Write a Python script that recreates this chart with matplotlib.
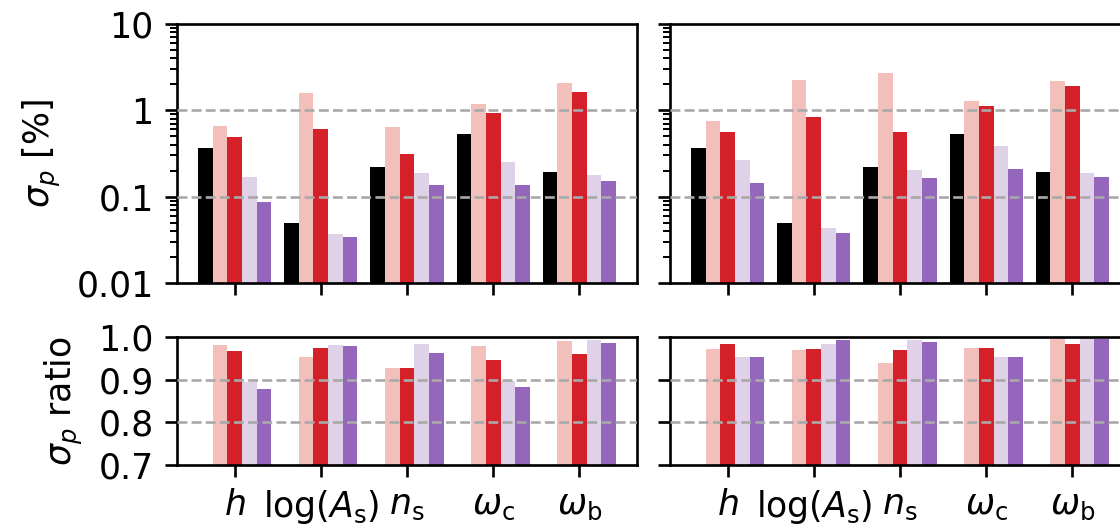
import numpy as np
import matplotlib
matplotlib.use('Agg')
import matplotlib.pyplot as plt
from matplotlib.ticker import FixedLocator, FixedFormatter, LogLocator, NullFormatter

# ---------------- data ----------------
params = [r'$h$', r'$\log(A_\mathrm{s})$', r'$n_\mathrm{s}$', r'$\omega_\mathrm{c}$', r'$\omega_\mathrm{b}$']

# left panel, sigma_p [%]
left_black  = [0.37, 0.049, 0.218, 0.536, 0.191]
left_pink   = [0.66, 1.57, 0.64, 1.17, 2.09]
left_red    = [0.49, 0.61, 0.314, 0.94, 1.64]
left_lav    = [0.169, 0.037, 0.188, 0.249, 0.179]
left_purple = [0.087, 0.0337, 0.1375, 0.135, 0.150]

# right panel, sigma_p [%]
right_black  = [0.37, 0.049, 0.218, 0.536, 0.191]
right_pink   = [0.76, 2.24, 2.68, 1.29, 2.19]
right_red    = [0.565, 0.83, 0.56, 1.11, 1.93]
right_lav    = [0.268, 0.043, 0.203, 0.389, 0.186]
right_purple = [0.144, 0.0376, 0.164, 0.21, 0.167]

# ratios
left_ratio_pink   = [0.981, 0.953, 0.928, 0.978, 0.991]
left_ratio_red    = [0.968, 0.974, 0.927, 0.946, 0.961]
left_ratio_lav    = [0.895, 0.982, 0.983, 0.897, 0.994]
left_ratio_purple = [0.877, 0.979, 0.963, 0.883, 0.986]

right_ratio_pink   = [0.972, 0.970, 0.938, 0.975, 0.996]
right_ratio_red    = [0.983, 0.972, 0.969, 0.974, 0.984]
right_ratio_lav    = [0.952, 0.984, 0.992, 0.952, 0.998]
right_ratio_purple = [0.953, 0.992, 0.988, 0.953, 0.996]

colors = ['#000000', '#f3bfbb', '#d42028', '#dfd1e8', '#9467bd']

# ---------------- style ----------------
S = 2.4
FS = 25
plt.rcParams.update({
    'font.family': ['DejaVu Sans'],
    'font.size': FS,
    'axes.linewidth': 0.8 * S,
    'xtick.major.size': 3.5 * S, 'ytick.major.size': 3.5 * S,
    'xtick.minor.size': 2.0 * S, 'ytick.minor.size': 2.0 * S,
    'xtick.major.width': 0.8 * S, 'ytick.major.width': 0.8 * S,
    'xtick.minor.width': 0.6 * S, 'ytick.minor.width': 0.6 * S,
    'xtick.major.pad': 3.5 * S, 'ytick.major.pad': 3.5 * S,
    'xtick.labelsize': FS, 'ytick.labelsize': FS,
    'axes.labelsize': FS,
    'axes.labelpad': 4.0 * S,
})

W, H = 1120, 525
fig = plt.figure(figsize=(W / 100, H / 100), dpi=100)

def fx(px):
    return px / W

def fy(py):
    return 1 - py / H

ax_w = 460
top_t, top_b = 24, 283
bot_t, bot_b = 337, 465
lefts = [177, 670]

axes_top = [fig.add_axes([fx(l), fy(top_b), fx(ax_w), (top_b - top_t) / H]) for l in lefts]
axes_bot = [fig.add_axes([fx(l), fy(bot_b), fx(ax_w), (bot_b - bot_t) / H]) for l in lefts]

bw = 0.17
x = np.arange(len(params))

top_series = [
    [left_black, left_pink, left_red, left_lav, left_purple],
    [right_black, right_pink, right_red, right_lav, right_purple],
]
bot_series = [
    [left_ratio_pink, left_ratio_red, left_ratio_lav, left_ratio_purple],
    [right_ratio_pink, right_ratio_red, right_ratio_lav, right_ratio_purple],
]

grid_kw = dict(color='#a9a9a9', lw=0.8 * S, linestyle='--', zorder=5)

for k in range(2):
    ax = axes_top[k]
    for i, vals in enumerate(top_series[k]):
        ax.bar(x + (i - 2) * bw, vals, bw, color=colors[i], zorder=2)
    ax.set_yscale('log')
    ax.set_ylim(0.01, 10)
    for g in (0.1, 1.0):
        ax.axhline(g, **grid_kw)
    ax.yaxis.set_major_locator(FixedLocator([0.01, 0.1, 1, 10]))
    ax.yaxis.set_minor_locator(LogLocator(base=10, subs=np.arange(2, 10)))
    ax.yaxis.set_minor_formatter(NullFormatter())
    if k == 0:
        ax.yaxis.set_major_formatter(FixedFormatter(['0.01', '0.1', '1', '10']))
        ax.set_ylabel(r'$\sigma_p$ [%]')
    else:
        ax.yaxis.set_major_formatter(NullFormatter())
    ax.set_xticks(x)
    ax.set_xticklabels([])
    xl = ax.get_xlim()

    axb = axes_bot[k]
    for i, vals in enumerate(bot_series[k]):
        axb.bar(x + (i - 1) * bw, vals, bw, color=colors[i + 1], zorder=2)
    axb.set_xlim(xl)
    axb.set_ylim(0.7, 1.0)
    for g in (0.8, 0.9):
        axb.axhline(g, **grid_kw)
    axb.set_yticks([0.7, 0.8, 0.9, 1.0])
    if k == 0:
        axb.set_yticklabels(['0.7', '0.8', '0.9', '1.0'])
        axb.set_ylabel(r'$\sigma_p$ ratio')
    else:
        axb.set_yticklabels([])
    axb.set_xticks(x)
    axb.set_xticklabels(params)

fig.savefig('out.png', dpi=100)
